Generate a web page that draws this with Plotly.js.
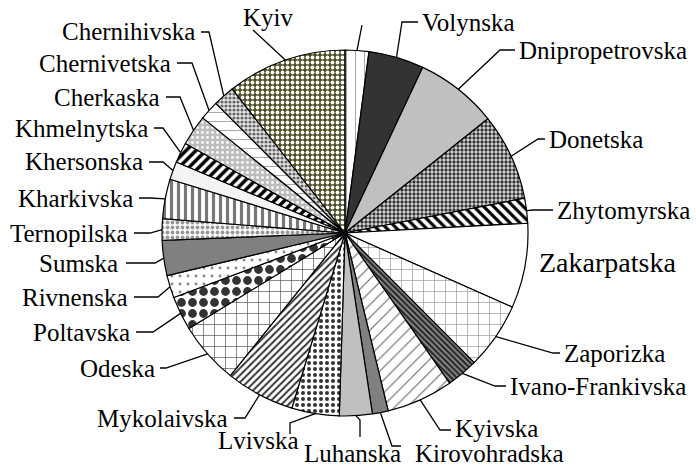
<!DOCTYPE html>
<html>
<head>
<meta charset="utf-8">
<script src="https://cdn.plot.ly/plotly-3.0.1.min.js"></script>
<style>html,body{margin:0;padding:0;background:#fff;}#chart{width:696px;height:467px;}</style>
</head>
<body>
<div id="chart"></div>
<script>
// ---- data ----
const regions = ['Vinnytska','Volynska','Dnipropetrovska','Donetska','Zhytomyrska','Zakarpatska','Zaporizka','Ivano-Frankivska','Kyivska','Kirovohradska','Luhanska','Lvivska','Mykolaivska','Odeska','Poltavska','Rivnenska','Sumska','Ternopilska','Kharkivska','Khersonska','Khmelnytska','Cherkaska','Chernivetska','Chernihivska','Kyiv'];
const shares = [2.1,4.9,7.3,7.7,2.2,7.5,5.9,2.8,5.9,1.4,2.9,4.2,6.1,5.5,3.0,2.0,3.1,1.9,3.5,1.6,1.8,2.7,1.7,1.9,10.6];
const labelText = ['','Volynska','Dnipropetrovska','Donetska','Zhytomyrska','Zakarpatska','Zaporizka','Ivano-Frankivska','Kyivska','Kirovohradska','Luhanska','Lvivska','Mykolaivska','Odeska','Poltavska','Rivnenska','Sumska','Ternopilska','Kharkivska','Khersonska','Khmelnytska','Cherkaska','Chernivetska','Chernihivska','Kyiv'];

// ---- styles ----
const patShape = ['|','','','.','\\','','+','\\','/','','','.','/','+','.','.','','.','|','','/','.','-','.','.'];
const patFg    = ['#aaaaaa','#333333','#c0c0c0','#333333','#000000','#ffffff','#9a9a9a','#222222','#666666','#808080','#c0c0c0','#333333','#333333','#555555','#333333','#888888','#808080','#999999','#777777','#f4f4f4','#000000','#ffffff','#aaaaaa','#666666','#ffffff'];
const patBg    = ['#ffffff','#333333','#c0c0c0','#e0e0e0','#ffffff','#ffffff','#ffffff','#888888','#ffffff','#808080','#c0c0c0','#ffffff','#ffffff','#ffffff','#ffffff','#ffffff','#808080','#ffffff','#ffffff','#f4f4f4','#ffffff','#bdbdbd','#ffffff','#e6e6e6','#4d4d26'];
const patSize  = [9,8,8,4,7,8,11,4,9,8,8,6,5,11,11,8,8,5,7,8,7,5,9,4,5];
const patSol   = [0.12,0.3,0.3,0.55,0.45,0.3,0.12,0.5,0.12,0.3,0.3,0.35,0.4,0.12,0.5,0.1,0.3,0.45,0.45,0.3,0.5,0.25,0.12,0.5,0.45];

// ---- layout (pixels) ----
const W = 696, H = 467;
const cx = 345, cy = 233, R = 183;
const lblX = [362,420,517,547,555,537,562,508,453,413,352,258,230,157,132,130,120,130,135,145,150,162,173,197,268];
const lblY = [25,22,50,139,210,262,353,386,428,453,453,440,418,368,332,297,263,233,198,162,128,97,63,32,17];
const lblAnchor = ['left','left','left','left','left','left','left','left','left','left','center','center','right','right','right','right','right','right','right','right','right','right','right','right','center'];
const elbX = [362,402,500,538,533,null,553,495,440,392,360,290,245,166,153,158,155,150,150,163,163,180,192,209,253];
const elbY = [25,22,50,139,210,null,353,386,430,446,420,423,418,368,332,297,263,233,198,162,128,97,63,32,30];
const endX = [362,418,515,545,553,null,560,506,451,401,360,290,234,160,136,134,126,134,139,149,154,166,177,201,253];
const endY = [25,22,50,139,210,null,353,386,430,446,437,434,418,368,332,297,263,233,198,162,128,97,63,32,30];
const bigLabel = 'Zakarpatska';
const labelFont = '"Liberation Serif", "Times New Roman", serif';

const px = x => x / W;
const py = y => 1 - y / H;

const total = shares.reduce((a, b) => a + b, 0);
let acc = 0;
const mids = shares.map(v => { const m = (acc + v / 2) / total * 2 * Math.PI; acc += v; return m; });

const shapes = [];
const annotations = [];
regions.forEach((r, i) => {
  if (elbX[i] !== null) {
    const ex = cx + R * Math.sin(mids[i]);
    const ey = cy - R * Math.cos(mids[i]);
    shapes.push({
      type: 'path', xref: 'paper', yref: 'paper',
      path: `M ${px(ex)} ${py(ey)} L ${px(elbX[i])} ${py(elbY[i])} L ${px(endX[i])} ${py(endY[i])}`,
      line: {color: '#000', width: 1.3}
    });
  }
  if (labelText[i]) {
    annotations.push({
      xref: 'paper', yref: 'paper', x: px(lblX[i]), y: py(lblY[i]),
      xanchor: lblAnchor[i], yanchor: 'middle', showarrow: false,
      text: labelText[i],
      font: {family: labelFont, size: labelText[i] === bigLabel ? 28 : 25, color: '#000'}
    });
  }
});

const trace = {
  type: 'pie',
  labels: regions,
  values: shares,
  sort: false,
  direction: 'clockwise',
  rotation: 0,
  textinfo: 'none',
  textposition: 'none',
  hoverinfo: 'label+percent',
  domain: {x: [(cx - R) / W, (cx + R) / W], y: [(H - cy - R) / H, (H - cy + R) / H]},
  marker: {
    colors: patBg,
    line: {color: '#000', width: 1.2},
    pattern: {shape: patShape, fgcolor: patFg, bgcolor: patBg, size: patSize, solidity: patSol, fillmode: 'replace'}
  }
};

Plotly.newPlot('chart', [trace], {
  width: W, height: H,
  margin: {l: 0, r: 0, t: 0, b: 0},
  showlegend: false,
  paper_bgcolor: '#fff',
  font: {family: labelFont},
  shapes: shapes,
  annotations: annotations
}, {displayModeBar: false, staticPlot: true});
</script>
</body>
</html>
